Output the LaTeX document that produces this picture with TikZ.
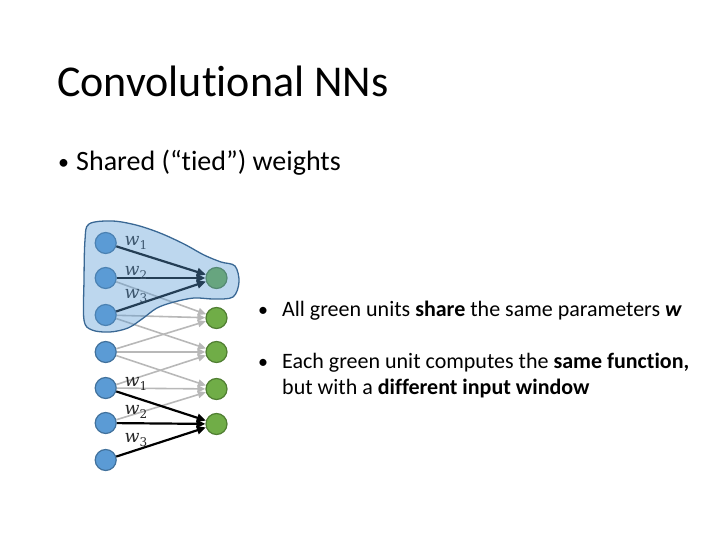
\documentclass[tikz,border=0pt]{standalone}
\usepackage{fontspec}
\setmainfont{Carlito}[Ligatures={TeX,NoCommon}]
\newfontfamily\wfont{DejaVu Serif}
\usetikzlibrary{arrows.meta}
\definecolor{bluefill}{HTML}{5B9BD5}
\definecolor{blueedge}{HTML}{41719C}
\definecolor{greenfill}{HTML}{70AD47}
\definecolor{greenedge}{HTML}{507E32}
\definecolor{grayline}{HTML}{B8B8B8}
\definecolor{blobedge}{HTML}{3A6894}
\newcommand{\wgt}[1]{{\wfont\itshape\fontsize{17.5}{20}\selectfont w\raisebox{-3.5pt}{\fontsize{12}{14}\selectfont\upshape #1}}}
\begin{document}
\begin{tikzpicture}[x=1pt,y=-1pt,
  inunit/.style={circle,minimum size=21pt,inner sep=0pt,fill=bluefill,draw=blueedge,line width=1.2pt},
  outunit/.style={circle,minimum size=21pt,inner sep=0pt,fill=greenfill,draw=greenedge,line width=1.2pt},
  grayedge/.style={draw=grayline,line width=1.6pt,-{Triangle[length=8pt,width=7pt]}},
  blackedge/.style={draw=black,line width=2.2pt,-{Triangle[length=9pt,width=8pt]}},
  wlabel/.style={inner sep=0pt,text=black!85},
  txt/.style={anchor=base west,inner sep=0pt},
  bodytxt/.style={txt,font=\fontsize{22}{26}\selectfont}]
\useasboundingbox (0,0) rectangle (720,540);
% title and bullets
\node[txt,font=\fontsize{44}{52}\selectfont] (title) at (57,97) {Convolutional NNs};
\node[txt,font=\fontsize{22}{31}\selectfont] (bul0) at (58,170) {•};
\node[txt,font=\fontsize{28}{33}\selectfont] (shared) at (76,171) {Shared (“tied”) weights};
% units
\foreach \i/\y in {1/243,2/278,3/315,4/352,5/388,6/423,7/460}
  \node[inunit] (b\i) at (105.7,\y) {};
\foreach \i/\y in {1/278,2/318,3/352,4/389,5/424}
  \node[outunit] (g\i) at (216.5,\y) {};
% gray connections
\foreach \g in {2,3,4}{
  \pgfmathtruncatemacro{\a}{\g}
  \pgfmathtruncatemacro{\b}{\g+1}
  \pgfmathtruncatemacro{\c}{\g+2}
  \draw[grayedge] (b\a) -- (g\g);
  \draw[grayedge] (b\b) -- (g\g);
  \draw[grayedge] (b\c) -- (g\g);
}
% black connections
\draw[blackedge] (b1) -- (g1);
\draw[blackedge] (b2) -- (g1);
\draw[blackedge] (b3) -- (g1);
\draw[blackedge] (b5) -- (g5);
\draw[blackedge] (b6) -- (g5);
\draw[blackedge] (b7) -- (g5);
% weight labels
\node[wlabel] (tw1) at (136,243) {\wgt{1}};
\node[wlabel] (tw2) at (136,273) {\wgt{2}};
\node[wlabel] (tw3) at (136,296) {\wgt{3}};
\node[wlabel] (bw1) at (136,384) {\wgt{1}};
\node[wlabel] (bw2) at (136,412) {\wgt{2}};
\node[wlabel] (bw3) at (136,440) {\wgt{3}};
% receptive-field blob
\filldraw[fill=bluefill,fill opacity=0.4,draw=blobedge,line width=1.3pt]
  plot[smooth cycle,tension=0.55] coordinates {
   (89,224) (112,221) (136,225) (160,233) (184,244) (204,255) (221,262)
   (235,266) (239,282) (233,297) (214,299) (194,298) (174,302) (157,308)
   (142,319) (128,328) (110,332) (92,330) (84,320) (84,280) (85,240)};
% right-hand text
\node[txt,font=\fontsize{20}{24}\selectfont] (bul1) at (258,316) {•};
\node[bodytxt] (t1) at (282,316) {All green units \textbf{share} the same parameters \textbf{\textit{w}}};
\node[txt,font=\fontsize{20}{24}\selectfont] (bul2) at (258,368) {•};
\node[bodytxt] (t2) at (282,368) {Each green unit computes the \textbf{same function,}};
\node[bodytxt] (t3) at (282,394) {but with a \textbf{different input window}};
\end{tikzpicture}
\end{document}
